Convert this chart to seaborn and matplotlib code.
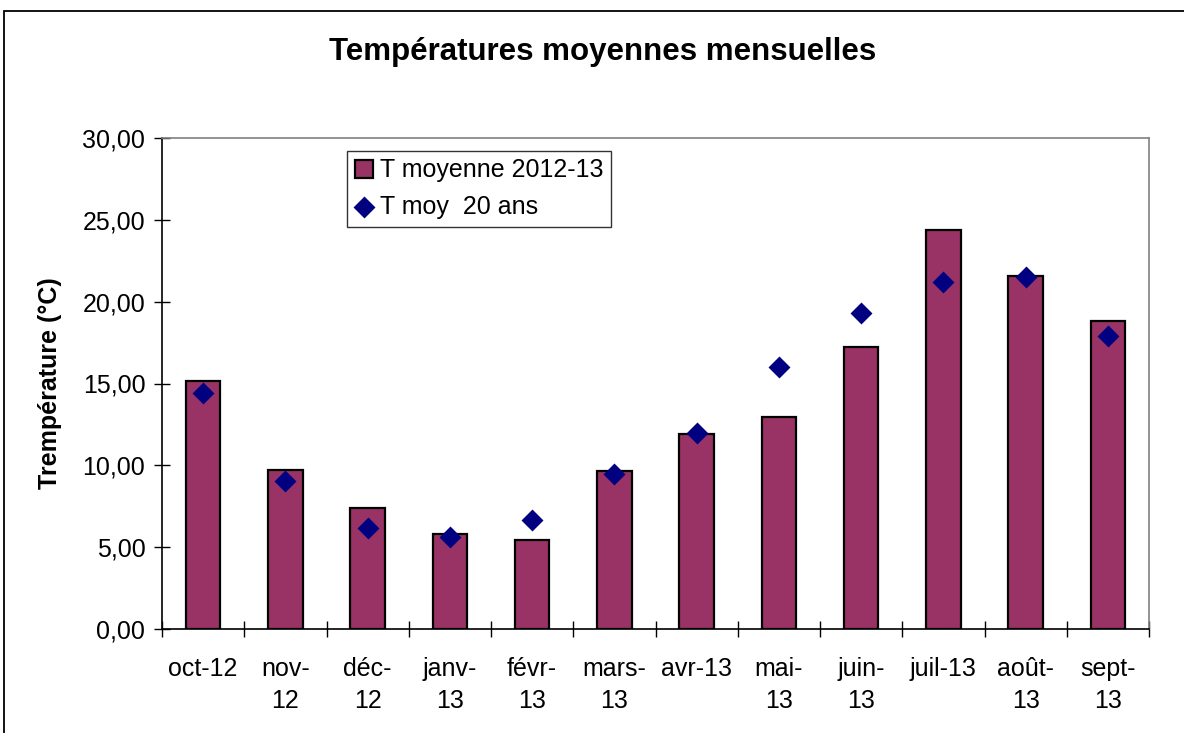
import matplotlib
matplotlib.use("Agg")
import matplotlib.pyplot as plt
import matplotlib.patches as mpatches
from matplotlib.ticker import FuncFormatter, FixedLocator
import numpy as np
import seaborn as sns

months = ["oct-12", "nov-\n12", "déc-\n12", "janv-\n13", "févr-\n13", "mars-\n13",
          "avr-13", "mai-\n13", "juin-\n13", "juil-13", "août-\n13", "sept-\n13"]
t_2012_13 = [15.15, 9.71, 7.41, 5.78, 5.44, 9.65, 11.89, 12.95, 17.21, 24.37, 21.58, 18.83]
t_20ans = [14.40, 9.04, 6.15, 5.60, 6.66, 9.45, 11.96, 15.99, 19.32, 21.22, 21.52, 17.90]
yticks = [0, 5, 10, 15, 20, 25, 30]

sns.set_style("white")
plt.rcParams["font.family"] = ["Liberation Sans", "DejaVu Sans"]
plt.rcParams["text.color"] = "black"
plt.rcParams["xtick.color"] = "black"
plt.rcParams["ytick.color"] = "black"

W, H = 1184, 733
fig = plt.figure(figsize=(W / 100, H / 100), dpi=100)
ax = fig.add_axes([162 / W, 1 - 629 / H, 987 / W, 491 / H])

sns.barplot(x=months, y=t_2012_13, color="#993366", saturation=1, width=0.42,
            edgecolor="black", linewidth=1.6, ax=ax, label="T moyenne 2012-13")
pos = np.arange(len(months))
sns.scatterplot(x=pos, y=t_20ans, marker="D", s=125, color="#000080",
                linewidth=0, ax=ax, label="T moy  20 ans", zorder=5)

ax.set_xlim(-0.5, len(months) - 0.5)
ax.set_ylim(0, 30)
ax.yaxis.set_major_locator(FixedLocator(yticks))
ax.yaxis.set_major_formatter(FuncFormatter(lambda v, p: f"{v:.2f}".replace(".", ",")))
ax.set_xticks(pos)
ax.set_xticklabels(months, fontsize=18, linespacing=1.45)
ax.set_xticks(np.arange(-0.5, len(months)), minor=True)
ax.tick_params(axis="x", which="major", bottom=True, length=0, pad=20)
ax.tick_params(axis="x", which="minor", bottom=True, direction="inout", length=12,
               width=1, color="black")
ax.tick_params(axis="y", which="major", left=True, direction="inout", length=12,
               width=1, color="black", labelsize=18, pad=6)
ax.set_xlabel("")
ax.set_ylabel("")

for s in ["left", "bottom"]:
    ax.spines[s].set_color("black")
    ax.spines[s].set_linewidth(1.2)
for s in ["top", "right"]:
    ax.spines[s].set_color("#808080")
    ax.spines[s].set_linewidth(1.2)
ax.grid(False)

handles, labels = ax.get_legend_handles_labels()
order = {"T moyenne 2012-13": 0, "T moy  20 ans": 1}
hl = sorted(zip(handles, labels), key=lambda t: order.get(t[1], 9))
leg = ax.legend([h for h, _ in hl], [l for _, l in hl], loc="upper left",
                bbox_to_anchor=((347 - 162) / 987, (629 - 151) / 491),
                borderaxespad=0, fontsize=18, frameon=True, fancybox=False,
                edgecolor="black", handlelength=0.75, handleheight=0.75,
                handletextpad=0.25, labelspacing=0.5, borderpad=0.3)
leg.get_frame().set_linewidth(1.0)

fig.text(603 / W, 1 - 52 / H, "Températures moyennes mensuelles", ha="center",
         va="center", fontsize=22.5, fontweight="bold")
fig.text(50 / W, 1 - 383 / H, "Trempérature (°C)", ha="center", va="center",
         rotation=90, fontsize=18, fontweight="bold")

fig.patches.append(mpatches.Rectangle((4 / W, -0.05), 1.2, 1 - 11 / H + 0.05,
                                      transform=fig.transFigure, fill=False,
                                      edgecolor="black", linewidth=1.3))

fig.savefig("out.png", dpi=100)
